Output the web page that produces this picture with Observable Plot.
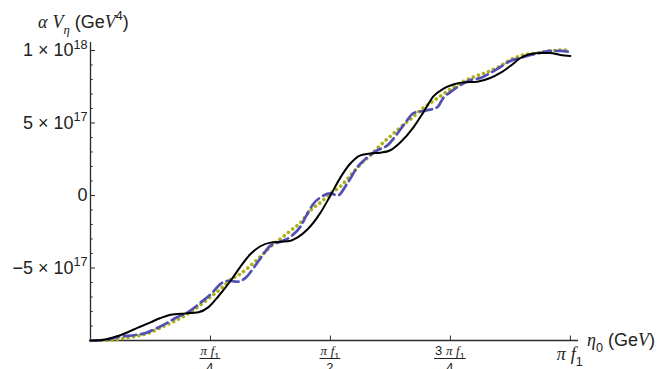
<!DOCTYPE html>
<html><head><meta charset="utf-8">
<script src="https://cdn.jsdelivr.net/npm/d3@7"></script>
<script src="https://cdn.jsdelivr.net/npm/@observablehq/plot@0.6"></script>
<style>body{margin:0;background:#fff} svg{display:block} text{white-space:pre}</style>
</head><body><div id="chart"></div>
<script>
// x in units of π f1 (0..1), y in units of 1e17 GeV^4
const blackX = [0,.02,.058,.1,.125,.146,.167,.198,.225,.246,.267,.292,.3125,.333,.354,.375,.396,.417,.431,.452,.479,.5,.521,.542,.5625,.583,.604,.625,.646,.673,.694,.715,.735,.756,.777,.806,.833,.854,.875,.896,.917,.9375,.958,.979,1];
const blackY = [-10,-9.98,-9.68,-9.1,-8.75,-8.45,-8.22,-8.13,-8.05,-7.7,-6.93,-5.88,-4.9,-4.05,-3.5,-3.25,-3.19,-3.12,-2.9,-2.35,-1.2,0,1.25,2.22,2.77,2.9,2.95,3.12,3.67,4.7,5.75,6.85,7.35,7.65,7.8,7.85,8.1,8.45,8.93,9.48,9.76,9.83,9.83,9.69,9.62];
const blueX = [0,.031,.058,.094,.115,.135,.156,.177,.204,.229,.254,.271,.288,.306,.323,.340,.358,.375,.396,.417,.4375,.452,.465,.479,.5,.515,.535,.556,.577,.598,.619,.640,.660,.673,.702,.723,.735,.75,.771,.792,.8125,.833,.854,.875,.896,.917,.9375,.958,.979,1];
const blueY = [-10,-9.95,-9.75,-9.62,-9.48,-9.2,-8.85,-8.45,-8.03,-7.4,-6.7,-6.1,-5.88,-5.95,-5.68,-4.99,-4.15,-3.46,-3.19,-2.84,-2.15,-1.25,-0.55,-0.14,0.14,0,0.83,1.94,2.63,3.12,3.46,4.29,5.19,5.68,5.88,6.09,6.72,7.13,7.61,7.96,8.1,8.45,8.86,9.28,9.48,9.69,9.83,9.97,9.97,9.9];
const yellowX = [0,.031,.073,.115,.163,.192,.219,.25,.271,.292,.3125,.333,.354,.375,.396,.417,.4375,.458,.479,.5,.521,.542,.5625,.583,.604,.625,.646,.667,.6875,.708,.729,.75,.771,.798,.827,.854,.875,.902,.931,.958,.985,1];
const yellowY = [-10,-10,-9.83,-9.55,-8.85,-8.38,-7.8,-7.0,-6.45,-5.8,-5.4,-4.85,-4.22,-3.53,-2.98,-2.42,-1.87,-1.04,-0.49,0.14,0.63,1.39,2.15,2.77,3.46,4.09,4.7,5.26,5.88,6.37,6.85,7.34,7.75,8.17,8.51,8.93,9.35,9.69,9.83,9.97,10.03,10.03];

const yMajor = [-5, 0, 5, 10];
const yTickLabels = ["−5 × 10^17", "0", "5 × 10^17", "1 × 10^18"];
const yMinor = [-9,-8,-7,-6,-4,-3,-2,-1,1,2,3,4,6,7,8,9];
const xTicks = [0.25, 0.5, 0.75, 1];
const xTickLabels = ["π f_1/4", "π f_1/2", "3 π f_1/4", "π f_1"];
const yTitle = "α V_η (GeV^4)";
const xTitle = "η_0 (GeV)";

const rows = (xs, ys) => xs.map((x, i) => ({x, y: ys[i]}));

const plot = Plot.plot({
  width: 662, height: 369,
  marginLeft: 90, marginRight: 84, marginTop: 42, marginBottom: 29,
  style: {fontFamily: "'Liberation Sans', Arial, sans-serif", fontSize: "18px", color: "#222", background: "white", overflow: "visible"},
  x: {domain: [0, 1.017], axis: null},
  y: {domain: [-10, 10.55], axis: null},
  marks: [
    Plot.ruleY([-10], {stroke: "#2a2a2a", strokeWidth: 1.3}),
    Plot.ruleX([0], {stroke: "#2a2a2a", strokeWidth: 1.3}),
    Plot.axisY(yMinor, {tickSize: -2.7, tickFormat: () => "", label: null, stroke: "#2a2a2a"}),
    Plot.axisY(yMajor, {tickSize: -5, tickPadding: 8, tickFormat: d => yTickLabels[yMajor.indexOf(d)], label: null, stroke: "#2a2a2a", fontSize: 18}),
    Plot.axisX(xTicks, {tickSize: -4.5, tickFormat: () => "", label: null, stroke: "#2a2a2a"}),
    Plot.line(rows(yellowX, yellowY), {x: "x", y: "y", curve: "monotone-x", stroke: "#afaf1c", strokeWidth: 3.6, strokeDasharray: "0.1,5.3", strokeLinecap: "round"}),
    Plot.line(rows(blueX, blueY), {x: "x", y: "y", curve: "monotone-x", stroke: "#5050b4", strokeWidth: 2.7, strokeDasharray: "12,5"}),
    Plot.line(rows(blackX, blackY), {x: "x", y: "y", curve: "monotone-x", stroke: "#000", strokeWidth: 2})
  ]
});
document.getElementById("chart").append(plot);

function rich(textSel, str, size) {
  let shift = 0, i = 0;
  const isIt = c => "παVηf".includes(c);
  while (i < str.length) {
    const ch = str[i];
    if (ch === "_" || ch === "^") {
      let j = i + 1; while (j < str.length && /[0-9a-zη]/.test(str[j])) j++;
      const sub = str.slice(i + 1, j);
      const target = ch === "_" ? size * 0.32 : -size * 0.42;
      const ts = textSel.append("tspan").attr("dy", target - shift).attr("font-size", size * 0.7).text(sub);
      if (isIt(sub[0])) ts.attr("font-family", "'Liberation Serif', serif").attr("font-style", "italic");
      shift = target; i = j; continue;
    }
    const cls = isIt(ch);
    let j = i;
    while (j < str.length && str[j] !== "_" && str[j] !== "^" && isIt(str[j]) === cls) j++;
    const ts = textSel.append("tspan").attr("dy", -shift).text(str.slice(i, j));
    shift = 0;
    if (cls) ts.attr("font-family", "'Liberation Serif', serif").attr("font-style", "italic");
    i = j;
  }
}

const svg = d3.select(plot);
svg.selectAll('g[aria-label="y-axis tick label"] text').each(function() {
  const t = d3.select(this); const s = t.text();
  t.text("");
  rich(t, s, 18);
});

const xs = plot.scale("x"), ys = plot.scale("y");
const y0 = ys.apply(-10);
const g = svg.append("g").attr("fill", "#222").attr("text-anchor", "start").attr("font-family", "'Liberation Sans', Arial, sans-serif");
xTicks.forEach((t, i) => {
  const cx = xs.apply(t);
  const parts = xTickLabels[i].split("/");
  if (parts.length === 2) {
    const num = g.append("text").attr("x", cx).attr("y", y0 + 15).attr("text-anchor", "middle").attr("font-size", 13);
    rich(num, parts[0], 13);
    const w = num.node().getBBox().width;
    g.append("line").attr("x1", cx - w / 2 - 1).attr("x2", cx + w / 2 + 1).attr("y1", y0 + 18.5).attr("y2", y0 + 18.5).attr("stroke", "#222").attr("stroke-width", 1);
    const den = g.append("text").attr("x", cx).attr("y", y0 + 32).attr("text-anchor", "middle").attr("font-size", 13);
    rich(den, parts[1], 13);
  } else {
    const tx = g.append("text").attr("x", cx).attr("y", y0 + 20).attr("text-anchor", "middle").attr("font-size", 18);
    rich(tx, parts[0], 18);
  }
});
const xt = g.append("text").attr("x", xs.apply(1.017) + 9).attr("y", y0 + 6).attr("font-size", 18);
rich(xt, xTitle, 18);
const yt = g.append("text").attr("x", xs.apply(0) - 52).attr("y", ys.apply(10.55) - 14).attr("font-size", 18);
rich(yt, yTitle, 18);
</script>
</body></html>
